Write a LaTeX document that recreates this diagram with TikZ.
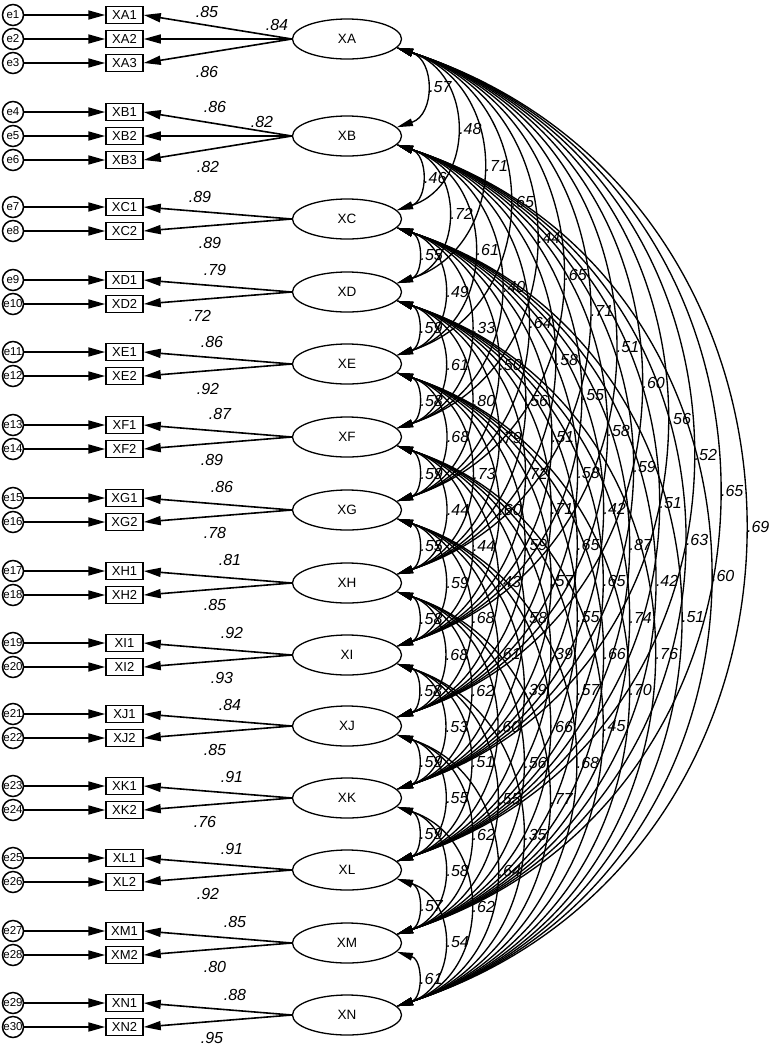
\documentclass[tikz,border=0pt]{standalone}
\usepackage{fontspec}
\setmainfont{Liberation Sans}
\usetikzlibrary{arrows.meta,shapes.geometric}
\begin{document}
\begin{tikzpicture}[x=1pt,y=-1pt,
  lat/.style={draw,ellipse,minimum width=109pt,minimum height=40pt,inner sep=0pt,line width=1.3pt,font=\fontsize{13.5}{13.5}\selectfont},
  obs/.style={draw,rectangle,minimum width=37pt,minimum height=17pt,inner sep=0pt,line width=1.5pt,font=\fontsize{13}{13}\selectfont},
  err/.style={draw,circle,minimum size=21pt,inner sep=0pt,line width=1.5pt,font=\fontsize{11.5}{11.5}\selectfont},
  ld/.style={line width=1.6pt,-{Triangle[length=17pt,width=9pt]}},
  ea/.style={line width=1.8pt,-{Triangle[length=17pt,width=9pt]}},
  cov/.style={line width=1.35pt,{Triangle[length=16pt,width=7.5pt]}-{Triangle[length=16pt,width=7.5pt]}},
  val/.style={font=\fontsize{16}{16}\selectfont\itshape,inner sep=0pt},
]
\useasboundingbox (0,0) rectangle (772,1045);
% latent variables
\foreach \n/\y in {A/39,B/136,C/219,D/292,E/364,F/437,G/510,H/583,I/655,J/726,K/798,L/870,M/943,N/1015}
  \node[lat] (X\n) at (347,\y) {X\n};
% three-indicator constructs
\foreach \n/\y/\e in {A/39/1,B/136/4} {
  \pgfmathtruncatemacro\ea{\e}\pgfmathtruncatemacro\eb{\e+1}\pgfmathtruncatemacro\ec{\e+2}
  \node[obs] (X\n1) at (124.5,\y-24) {X\n1};
  \node[obs] (X\n2) at (124.5,\y) {X\n2};
  \node[obs] (X\n3) at (124.5,\y+24) {X\n3};
  \node[err] (e\ea) at (13,\y-24) {e\ea};
  \node[err] (e\eb) at (13,\y) {e\eb};
  \node[err] (e\ec) at (13,\y+24) {e\ec};
  \draw[ea] (e\ea) -- (X\n1);
  \draw[ea] (e\eb) -- (X\n2);
  \draw[ea] (e\ec) -- (X\n3);
  \draw[ld] (X\n.west) -- (X\n1.east);
  \draw[ld] (X\n.west) -- (X\n2.east);
  \draw[ld] (X\n.west) -- (X\n3.east);
}
% two-indicator constructs
\foreach \n/\y/\e in {C/219/7,D/292/9,E/364/11,F/437/13,G/510/15,H/583/17,I/655/19,J/726/21,K/798/23,L/870/25,M/943/27,N/1015/29} {
  \pgfmathtruncatemacro\ea{\e}\pgfmathtruncatemacro\eb{\e+1}
  \node[obs] (X\n1) at (124.5,\y-12) {X\n1};
  \node[obs] (X\n2) at (124.5,\y+12) {X\n2};
  \node[err] (e\ea) at (13,\y-12) {e\ea};
  \node[err] (e\eb) at (13,\y+12) {e\eb};
  \draw[ea] (e\ea) -- (X\n1);
  \draw[ea] (e\eb) -- (X\n2);
  \draw[ld] (X\n.west) -- (X\n1.east);
  \draw[ld] (X\n.west) -- (X\n2.east);
}
% loading values
\foreach \x/\y/\v in {207/12/.85,277/25/.84,207/72/.86,
  215/107/.86,262/122/.82,208/167/.82,
  200/197/.89,210/243/.89, 215/270/.79,200/316/.72,
  212/342/.86,208/389/.92, 220/414/.87,212/460/.89,
  222/487/.86,215/533/.78, 230/560/.81,215/605/.85,
  232/633/.92,222/678/.93, 230/705/.84,215/750/.85,
  232/777/.91,205/822/.76, 232/849/.91,208/894/.92,
  235/922/.85,215/967/.80, 235/995/.88,212/1038/.95}
  \node[val] at (\x,\y) {\v};
% covariances
\def\LN{{"XA","XB","XC","XD","XE","XF","XG","XH","XI","XJ","XK","XL","XM","XN"}}
\foreach \vals [count=\i from 0] in {
  {.57,.48,.71,.65,.44,.65,.71,.51,.60,.56,.52,.65,.69},
  {.46,.72,.61,.40,.64,.58,.55,.58,.59,.51,.63,.60},
  {.55,.49,.33,.50,.56,.51,.58,.42,.87,.42,.51},
  {.59,.61,.80,.79,.72,.71,.65,.65,.74,.76},
  {.58,.68,.73,.60,.59,.57,.55,.66,.70},
  {.59,.44,.44,.43,.58,.39,.57,.45},
  {.55,.59,.68,.61,.39,.66,.68},
  {.58,.68,.62,.60,.56,.77},
  {.58,.53,.51,.55,.35},
  {.59,.55,.62,.64},
  {.59,.58,.62},
  {.57,.54},
  {.61}} {
  \pgfmathparse{\LN[\i]}\edef\src{\pgfmathresult}
  \foreach \v [count=\k] in \vals {
    \pgfmathtruncatemacro\jj{\i+\k}
    \pgfmathparse{\LN[\jj]}\edef\tgt{\pgfmathresult}
    \draw[cov] (\src.-10) to[bend left=72,looseness=1.30]
      node[pos=0.5,anchor=west,val,xshift=3pt] {\v} (\tgt.10);
  }
}
\end{tikzpicture}
\end{document}
